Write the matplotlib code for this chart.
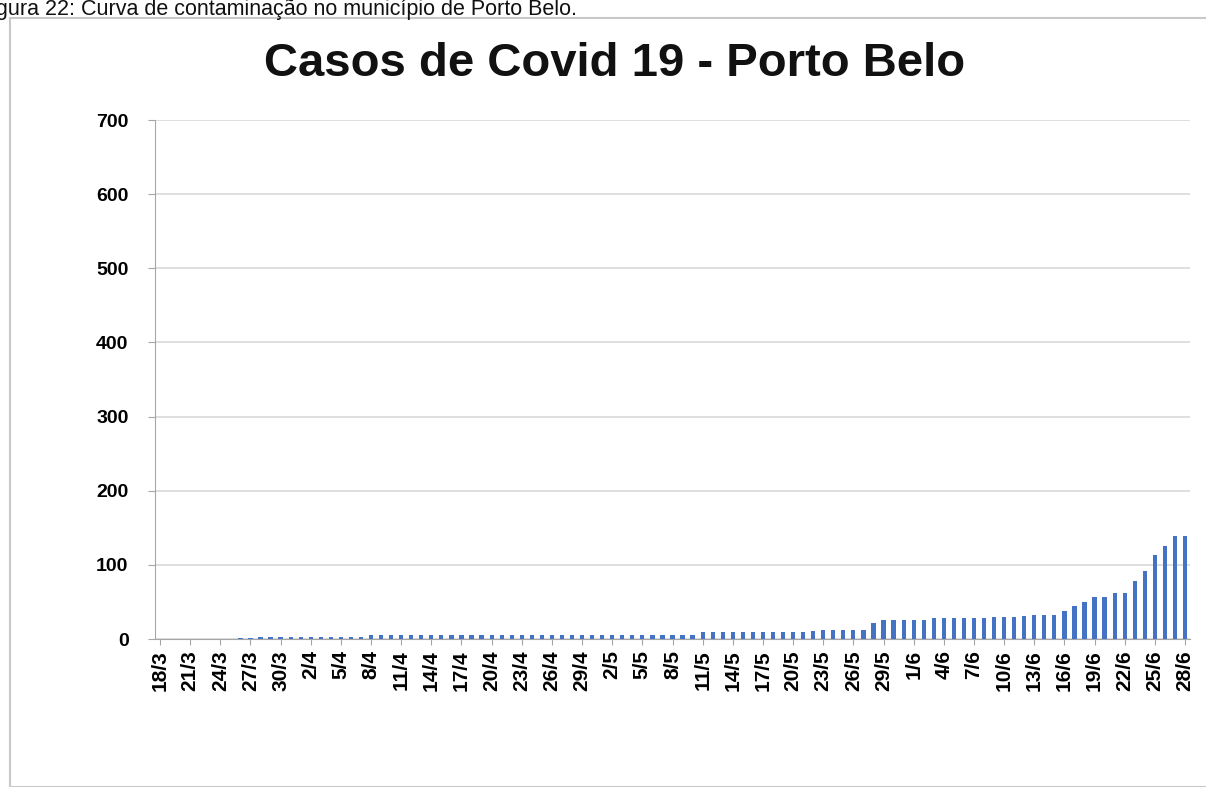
import matplotlib
matplotlib.use("Agg")
import matplotlib.pyplot as plt
from matplotlib.patches import Rectangle
import datetime as dt

# ---- data ----
start = dt.date(2020, 3, 18)
n_days = 103
dates = [start + dt.timedelta(days=i) for i in range(n_days)]
date_labels = [f"{d.day}/{d.month}" for d in dates]

cases = (
    [0] * 8 +                       # 18/3 - 25/3
    [1, 2] +                        # 26/3 - 27/3
    [3] * 11 +                      # 28/3 - 7/4
    [6] * 33 +                      # 8/4 - 10/5
    [9] * 11 +                      # 11/5 - 21/5
    [11, 12, 12, 12, 12, 12] +      # 22/5 - 27/5
    [22, 25, 25, 25, 25, 25] +      # 28/5 - 2/6
    [28, 28, 28, 28, 28, 28] +      # 3/6 - 8/6
    [30, 30, 30, 31, 32, 32] +      # 9/6 - 14/6
    [33, 38, 44, 50, 56, 56, 62, 62, 78, 92, 113, 125, 139, 139]  # 15/6 - 28/6
)

yticks = [0, 100, 200, 300, 400, 500, 600, 700]
title = "Casos de Covid 19 - Porto Belo"
caption = "Figura 22: Curva de contaminação no município de Porto Belo."

plt.rcParams['font.family'] = ['Liberation Sans', 'DejaVu Sans']

fig = plt.figure(figsize=(12.06, 7.87), dpi=100)
fig.patch.set_facecolor("white")

# outer chart frame
frame = Rectangle((10 / 1206, 0), 1.2, 1 - 18 / 787, transform=fig.transFigure,
                  fill=False, edgecolor="#C8C8C8", linewidth=1.5)
fig.add_artist(frame)

# caption at top (partly cut off in the source)
fig.text(-0.018, 1 - 10 / 787, caption, fontsize=15.5, ha="left", va="center", color="#111111")

ax = fig.add_axes([155 / 1206, 1 - 639 / 787, (1190 - 155) / 1206, (639 - 120) / 787])

x = list(range(n_days))
ax.bar(x, cases, width=0.42, color="#4472C4", zorder=3)

ax.set_xlim(-0.5, n_days - 0.5)
ax.set_ylim(0, 700)
ax.set_yticks(yticks)
ax.set_yticklabels([str(v) for v in yticks], fontsize=14, fontweight="bold")
ax.grid(axis="y", color="#D9D9D9", linewidth=1.2, zorder=0)

tick_pos = x[::3]
ax.set_xticks(tick_pos)
ax.set_xticklabels([date_labels[i] for i in tick_pos], rotation=90, fontsize=15,
                   fontweight="bold")

for s in ["top", "right"]:
    ax.spines[s].set_visible(False)
ax.spines["left"].set_color("#A6A6A6")
ax.spines["bottom"].set_color("#A6A6A6")
ax.tick_params(axis="y", length=5, color="#A6A6A6", pad=14)
ax.tick_params(axis="x", length=4, color="#A6A6A6", pad=4)

fig.text(615 / 1206, 1 - 64 / 787, title, fontsize=34, fontweight="bold",
         ha="center", va="center", color="#111111")

fig.savefig("out.png", dpi=100)
